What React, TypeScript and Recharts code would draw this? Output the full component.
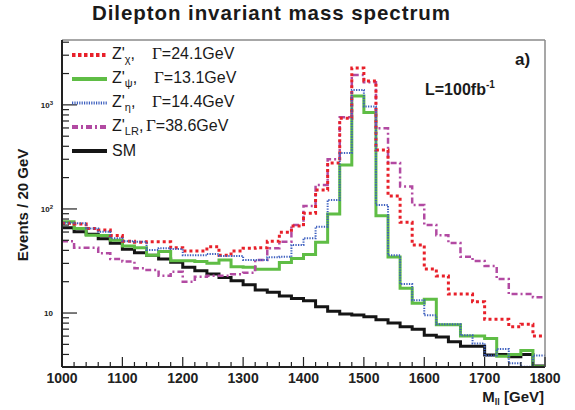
import React from 'react';
import { LineChart, Line, XAxis, YAxis } from 'recharts';

// Bin low edges (20 GeV bins) plus the upper edge 1800
const massEdges = [1000, 1020, 1040, 1060, 1080, 1100, 1120, 1140, 1160, 1180, 1200, 1220, 1240, 1260, 1280, 1300, 1320, 1340, 1360, 1380, 1400, 1420, 1440, 1460, 1480, 1500, 1520, 1540, 1560, 1580, 1600, 1620, 1640, 1660, 1680, 1700, 1720, 1740, 1760, 1780, 1800];

const zChiCounts = [72.8, 71.8, 65, 62.8, 55.5, 49, 48, 48.5, 48.5, 42.5, 39.5, 39.5, 43.4, 36, 39.5, 41.9, 42.5, 49, 59.7, 68.6, 91, 152, 276, 745, 2255, 1700, 369, 133, 74.5, 45, 26.5, 22.7, 15.2, 15.2, 12.8, 8.7, 8.7, 7.4, 7.8, 6.0];
const zPsiCounts = [75.5, 65, 56, 55.5, 50, 44, 42.5, 36, 39, 31.8, 31.8, 31.2, 30, 32.4, 27.9, 27.5, 26.3, 26.3, 30.5, 33.5, 36.5, 48, 89.6, 265, 1220, 843, 86, 34.5, 17.3, 12.4, 13.6, 7.7, 7.7, 6.0, 6.0, 5.7, 3.85, 4.0, 4.37, 3.05];
const zEtaCounts = [73.8, 72.8, 65, 60.5, 52.3, 49, 48.5, 40.3, 41.9, 41.2, 36, 36, 36.9, 35.3, 35.3, 32.4, 32.4, 34.3, 34.7, 45, 52.3, 67.6, 122, 344, 1393, 964, 109, 36, 19, 13.3, 9.5, 7.8, 7.8, 6.1, 5.1, 3.9, 4.5, 3.3, 3.05, 3.9];
const zLRCounts = [49, 42.5, 42.5, 37.5, 33, 31.2, 26.9, 25.9, 22.8, 24.9, 20, 22.3, 22.8, 22.8, 23.6, 24.4, 32.4, 41.9, 48.5, 70, 107, 170, 300, 760, 1940, 1650, 597, 276, 164, 109, 70, 56, 47, 34.8, 31.6, 28.3, 21.2, 15.2, 15.2, 14.2];
const smCounts = [66, 60.5, 57, 51.8, 46.8, 41, 38, 36, 33, 30.7, 27.5, 25.5, 23.7, 22, 20.4, 18.7, 16.6, 15.8, 14.6, 13.8, 13.1, 11.5, 10.4, 9.8, 9.55, 9.2, 8.6, 8.0, 7.4, 7.0, 6.1, 5.9, 5.3, 4.8, 4.8, 3.95, 4.0, 3.8, 4.0, 3.1];

const xMajorTicks = [1000, 1100, 1200, 1300, 1400, 1500, 1600, 1700, 1800];
const yTicks = [4, 5, 6, 7, 8, 9, 10, 20, 30, 40, 50, 60, 70, 80, 90, 100, 200, 300, 400, 500, 600, 700, 800, 900, 1000, 2000, 3000, 4000];
const yMajorLabels: Record<number, [string, string]> = { 10: ['10', ''], 100: ['10', '2'], 1000: ['10', '3'] };

const legendNames = ['χ', 'ψ', 'η', 'LR', ''];
const legendWidths = ['Γ=24.1GeV', 'Γ=13.1GeV', 'Γ=14.4GeV', 'Γ=38.6GeV', ''];

const SANS = "'Liberation Sans', Arial, Helvetica, sans-serif";
const SERIF = "'Liberation Serif', 'Times New Roman', serif";

const seriesStyles: Record<string, { color: string; width: number; dash?: string; legDash?: string; legWidth: number }> = {
  chi: { color: '#e8202a', width: 3, dash: '3 3', legDash: '3.5 2.5', legWidth: 4 },
  psi: { color: '#5fbd45', width: 3, legWidth: 4 },
  eta: { color: '#3d5fbf', width: 2, dash: '1.3 1.3', legDash: '1.2 1.2', legWidth: 3 },
  lr: { color: '#b24aa2', width: 2.5, dash: '6 3 2 3', legDash: '6 3 2 3', legWidth: 4 },
  sm: { color: '#151515', width: 3, legWidth: 4 },
};

const data = massEdges.map((m, i) => {
  const j = Math.min(i, zChiCounts.length - 1);
  return { m, chi: zChiCounts[j], psi: zPsiCounts[j], eta: zEtaCounts[j], lr: zLRCounts[j], sm: smCounts[j] };
});

const XTick = (props: any) => {
  const { x, y, payload } = props;
  const v = payload.value as number;
  const major = xMajorTicks.includes(v);
  return (
    <g>
      <line x1={x} x2={x} y1={y} y2={y - (major ? 10 : 5)} stroke="#222" strokeWidth={1.2} />
      {major && (
        <text x={x} y={y + 16} textAnchor="middle" fontSize={14} fontWeight="bold" fontFamily={SANS} fill="#222">
          {v}
        </text>
      )}
    </g>
  );
};

const YTick = (props: any) => {
  const { x, y, payload } = props;
  const v = payload.value as number;
  const lab = yMajorLabels[v];
  return (
    <g>
      <line x1={x} x2={x + (lab ? 15 : 7)} y1={y} y2={y} stroke="#222" strokeWidth={1.2} />
      {lab && (
        <text x={x - 9} y={y + 3} textAnchor="end" fontSize={8} fontWeight="bold" fontFamily={SANS} fill="#222">
          {lab[0]}
          {lab[1] && (
            <tspan fontSize={6} dy={-3}>
              {lab[1]}
            </tspan>
          )}
        </text>
      )}
    </g>
  );
};

const legendKeys = ['chi', 'psi', 'eta', 'lr', 'sm'];
const legendRowY = [55, 79, 103, 127, 151];
const legendGammaX = [152, 154, 152, 146, 0];

export default function App() {
  return (
    <div style={{ position: 'absolute', left: 0, top: 0, width: 575, height: 410, background: '#fff' }}>
      <LineChart width={575} height={410} data={data} margin={{ top: 39, right: 29, bottom: 42, left: 61 }}>
        <XAxis
          dataKey="m"
          type="number"
          domain={[1000, 1800]}
          ticks={massEdges}
          interval={0}
          height={1}
          tickSize={0}
          tickMargin={0}
          tickLine={false}
          tick={<XTick />}
          axisLine={{ stroke: '#222', strokeWidth: 2 }}
          allowDataOverflow
        />
        <XAxis
          xAxisId="top"
          orientation="top"
          type="number"
          domain={[1000, 1800]}
          ticks={[1000, 1800]}
          height={1}
          tickSize={0}
          tick={false}
          tickLine={false}
          axisLine={{ stroke: '#8a8a8a', strokeWidth: 1.5 }}
        />
        <YAxis
          scale="log"
          type="number"
          domain={[3.03, 4200]}
          ticks={yTicks}
          interval={0}
          width={1}
          tickSize={0}
          tickMargin={0}
          tickLine={false}
          tick={<YTick />}
          axisLine={{ stroke: '#222', strokeWidth: 2 }}
          allowDataOverflow
        />
        <YAxis
          yAxisId="right"
          orientation="right"
          type="number"
          domain={[0, 1]}
          ticks={[0, 1]}
          width={1}
          tickSize={0}
          tick={false}
          tickLine={false}
          axisLine={{ stroke: '#8a8a8a', strokeWidth: 1.5 }}
        />
        {['sm', 'psi', 'lr', 'chi', 'eta'].map((k) => (
          <Line
            key={k}
            dataKey={k}
            type="stepAfter"
            stroke={seriesStyles[k].color}
            strokeWidth={seriesStyles[k].width}
            strokeDasharray={seriesStyles[k].dash}
            dot={false}
            activeDot={false}
            isAnimationActive={false}
          />
        ))}
      </LineChart>
      <svg width={575} height={410} style={{ position: 'absolute', left: 0, top: 0, pointerEvents: 'none' }}>
        <text x={271} y={20} textAnchor="middle" fontSize={20.5} fontWeight="bold" fontFamily={SANS} fill="#1a1a1a" textLength={358} lengthAdjust="spacing">
          Dilepton invariant mass spectrum
        </text>
        <text transform="translate(28,205) rotate(-90)" textAnchor="middle" fontSize={15} fontWeight="bold" fontFamily={SANS} fill="#1a1a1a">
          Events / 20 GeV
        </text>
        <text x={544} y={402} textAnchor="end" fontSize={15} fontWeight="bold" fontFamily={SANS} fill="#1a1a1a">
          M
          <tspan fontSize={9} dy={3}>ll</tspan>
          <tspan dy={-3}> [GeV]</tspan>
        </text>
        <text x={425} y={95} fontSize={16} fontWeight="bold" fontFamily={SANS} fill="#1a1a1a">
          L=100fb
          <tspan fontSize={10} dy={-7}>-1</tspan>
        </text>
        <text x={515} y={65} fontSize={17} fontWeight="bold" fontFamily={SANS} fill="#1a1a1a">
          a)
        </text>
        {legendKeys.map((k, i) => {
          const st = seriesStyles[k];
          const ly = legendRowY[i];
          return (
            <g key={k}>
              <line x1={72} x2={107} y1={ly} y2={ly} stroke={st.color} strokeWidth={st.legWidth} strokeDasharray={st.legDash} />
              {k === 'sm' ? (
                <text x={112} y={ly + 5} fontSize={16} fontFamily={SANS} fill="#1a1a1a">SM</text>
              ) : (
                <>
                  <text x={112} y={ly + 4} fontSize={16} fontFamily={SANS} fill="#1a1a1a">
                    Z'
                    <tspan fontSize={11} dy={4}>{legendNames[i]}</tspan>
                    <tspan dy={-4}>,</tspan>
                  </text>
                  <text x={legendGammaX[i]} y={ly + 4} fontSize={16} fontFamily={SANS} fill="#1a1a1a">
                    <tspan fontFamily={SERIF} fontSize={17}>{legendWidths[i].slice(0, 1)}</tspan>
                    {legendWidths[i].slice(1)}
                  </text>
                </>
              )}
            </g>
          );
        })}
      </svg>
    </div>
  );
}
